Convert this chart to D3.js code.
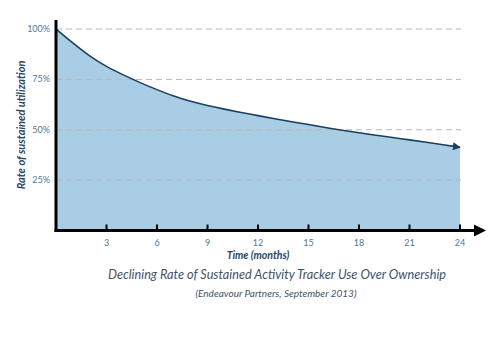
<!DOCTYPE html>
<html>
<head>
<meta charset="utf-8">
<script src="https://cdn.jsdelivr.net/npm/d3@7"></script>
<style>
  body { margin: 0; background: #fff; }
  svg { font-family: Lato, "Open Sans", sans-serif; }
</style>
</head>
<body>
<div id="chart"></div>
<script>
// months and retention values
var months = [0, 1, 2, 3, 4, 5, 6, 7, 8, 9, 10, 11, 12, 13, 14, 15, 16, 17, 18, 19, 20, 21, 22, 23, 24];
var usage  = [100, 93, 86.4, 81.3, 77.2, 73.3, 69.9, 66.6, 64, 62, 60.2, 58.6, 57, 55.4, 54, 52.6, 51.1, 49.7, 48.5, 47.3, 46.1, 45, 43.8, 42.6, 41.3];
var xTicks = [3, 6, 9, 12, 15, 18, 21, 24];
var yTicks = [25, 50, 75, 100];

var data = months.map(function(m, i) { return {m: m, v: usage[i]}; });

var svg = d3.select("#chart").append("svg")
    .attr("width", 500)
    .attr("height", 351);

var x = d3.scaleLinear().domain([0, 24]).range([56, 460]);
var y = d3.scaleLinear().domain([0, 100]).range([230.5, 29]);

// arrow marker for the line end
var defs = svg.append("defs");
defs.append("marker")
    .attr("id", "lineArrow")
    .attr("viewBox", "0 0 10 10")
    .attr("refX", 9).attr("refY", 5)
    .attr("markerWidth", 5).attr("markerHeight", 5)
    .attr("orient", "auto")
    .attr("markerUnits", "strokeWidth")
  .append("path")
    .attr("d", "M0,0 L10,5 L0,10 z")
    .attr("fill", "#1b3f5e");

// area fill
var area = d3.area()
    .x(function(d) { return x(d.m); })
    .y0(y(0))
    .y1(function(d) { return y(d.v); })
    .curve(d3.curveBasis);

svg.append("path")
    .datum(data)
    .attr("d", area)
    .attr("fill", "#aacde6");

// dashed grid lines
svg.append("g").selectAll("line")
    .data(yTicks)
  .enter().append("line")
    .attr("x1", x(0)).attr("x2", x(24) + 1)
    .attr("y1", function(d) { return y(d); })
    .attr("y2", function(d) { return y(d); })
    .attr("stroke", "#b8b8b8")
    .attr("stroke-width", 1)
    .attr("stroke-dasharray", "6,4");

// curve
var line = d3.line()
    .x(function(d) { return x(d.m); })
    .y(function(d) { return y(d.v); })
    .curve(d3.curveBasis);

svg.append("path")
    .datum(data)
    .attr("d", line)
    .attr("fill", "none")
    .attr("stroke", "#1b3f5e")
    .attr("stroke-width", 1.6)
    .attr("marker-end", "url(#lineArrow)");

// y axis
svg.append("line")
    .attr("x1", 56).attr("x2", 56)
    .attr("y1", 20).attr("y2", y(0) + 1.5)
    .attr("stroke", "#000")
    .attr("stroke-width", 3);

// x axis with arrow
svg.append("line")
    .attr("x1", 54.5).attr("x2", 476)
    .attr("y1", y(0)).attr("y2", y(0))
    .attr("stroke", "#000")
    .attr("stroke-width", 3);
svg.append("path")
    .attr("d", "M474," + (y(0) - 6) + " L486," + y(0) + " L474," + (y(0) + 6) + " z")
    .attr("fill", "#000");

// x ticks
svg.append("g").selectAll("line")
    .data(xTicks)
  .enter().append("line")
    .attr("x1", function(d) { return x(d); })
    .attr("x2", function(d) { return x(d); })
    .attr("y1", y(0)).attr("y2", y(0) - 6)
    .attr("stroke", "#000")
    .attr("stroke-width", 2);

svg.append("g").selectAll("text")
    .data(xTicks)
  .enter().append("text")
    .attr("x", function(d) { return x(d); })
    .attr("y", 246)
    .attr("text-anchor", "middle")
    .attr("font-size", "9px")
    .attr("fill", "#4f7896")
    .text(function(d) { return d; });

// y tick labels
svg.append("g").selectAll("text")
    .data(yTicks)
  .enter().append("text")
    .attr("x", 50)
    .attr("y", function(d) { return y(d) + 3; })
    .attr("text-anchor", "end")
    .attr("font-size", "9px")
    .attr("fill", "#4f7896")
    .text(function(d) { return d + "%"; });

// axis titles
svg.append("text")
    .attr("transform", "translate(25,125) rotate(-90)")
    .attr("text-anchor", "middle")
    .attr("font-size", "11px")
    .attr("font-style", "italic")
    .attr("font-weight", "bold")
    .attr("fill", "#25476a")
    .text("Rate of sustained utilization");

svg.append("text")
    .attr("x", 258).attr("y", 259)
    .attr("text-anchor", "middle")
    .attr("font-size", "10.5px")
    .attr("font-style", "italic")
    .attr("font-weight", "bold")
    .attr("fill", "#25476a")
    .text("Time (months)");

// caption
svg.append("text")
    .attr("x", 277).attr("y", 279)
    .attr("text-anchor", "middle")
    .attr("font-size", "12.7px")
    .attr("font-style", "italic")
    .attr("fill", "#3d5468")
    .text("Declining Rate of Sustained Activity Tracker Use Over Ownership");

svg.append("text")
    .attr("x", 276).attr("y", 297)
    .attr("text-anchor", "middle")
    .attr("font-size", "10px")
    .attr("font-style", "italic")
    .attr("fill", "#3d5468")
    .text("(Endeavour Partners, September 2013)");
</script>
</body>
</html>
